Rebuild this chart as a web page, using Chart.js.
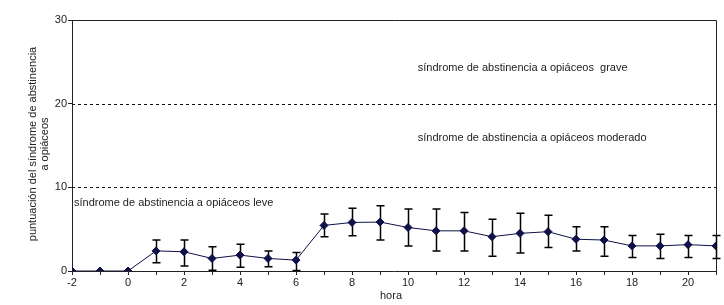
<!DOCTYPE html>
<html>
<head>
<meta charset="utf-8">
<script src="https://cdn.jsdelivr.net/npm/chart.js@4"></script>
<style>
  html, body { margin: 0; padding: 0; background: #fff; }
  #wrap { width: 724px; height: 305px; }
</style>
</head>
<body>
<div id="wrap"><canvas id="chart"></canvas></div>
<script>
// data
const hours = [-2, -1, 0, 1, 2, 3, 4, 5, 6, 7, 8, 9, 10, 11, 12, 13, 14, 15, 16, 17, 18, 19, 20, 21];
const scores = [0, 0, 0, 2.4, 2.3, 1.5, 1.9, 1.5, 1.3, 5.45, 5.8, 5.85, 5.2, 4.8, 4.8, 4.1, 4.5, 4.7, 3.8, 3.7, 3.0, 3.0, 3.15, 3.0];
const errTop = [null, null, null, 3.7, 3.7, 2.9, 3.2, 2.4, 2.2, 6.8, 7.5, 7.8, 7.4, 7.4, 7.0, 6.2, 6.9, 6.65, 5.3, 5.3, 4.25, 4.4, 4.25, 4.25];
const errBottom = [null, null, null, 1.0, 0.6, 0.1, 0.45, 0.5, 0.05, 4.1, 4.2, 3.7, 3.0, 2.4, 2.4, 1.75, 2.15, 2.8, 2.4, 1.75, 1.6, 1.5, 1.6, 1.5];
const yTicks = [0, 10, 20, 30];
const thresholds = [10, 20];
const zoneLabels = [
  { text: 'síndrome de abstinencia a opiáceos  grave', x: 10.35, y: 24.3 },
  { text: 'síndrome de abstinencia a opiáceos moderado', x: 10.35, y: 15.9 },
  { text: 'síndrome de abstinencia a opiáceos leve', x: -1.93, y: 8.1 }
];
const yTitle = ['puntuación del síndrome de abstinencia', 'a opiáceos'];
const xTitle = 'hora';

const FONT = '11px "Liberation Sans", Arial, sans-serif';
const INK = '#222';

const extras = {
  id: 'extras',
  beforeDatasetsDraw(chart) {
    const { ctx, chartArea: a, scales: { x, y } } = chart;
    ctx.save();
    // dashed threshold lines
    ctx.strokeStyle = '#111';
    ctx.lineWidth = 1;
    ctx.setLineDash([3, 3]);
    thresholds.forEach(t => {
      const py = Math.round(y.getPixelForValue(t)) + 0.5;
      ctx.beginPath();
      ctx.moveTo(a.left, py);
      ctx.lineTo(a.right, py);
      ctx.stroke();
    });
    ctx.setLineDash([]);
    // frame top + right
    ctx.strokeStyle = '#222';
    ctx.beginPath();
    ctx.moveTo(a.left, a.top + 0.5);
    ctx.lineTo(a.right + 0.5, a.top + 0.5);
    ctx.lineTo(a.right + 0.5, a.bottom);
    ctx.stroke();
    // error bars
    ctx.strokeStyle = '#000';
    ctx.lineWidth = 1.5;
    hours.forEach((h, i) => {
      if (errTop[i] == null) return;
      const px = Math.round(x.getPixelForValue(h)) + 0.5;
      const t = y.getPixelForValue(errTop[i]);
      const b = y.getPixelForValue(errBottom[i]);
      ctx.beginPath();
      ctx.moveTo(px, t); ctx.lineTo(px, b);
      ctx.moveTo(px - 4, t); ctx.lineTo(px + 4, t);
      ctx.moveTo(px - 4, b); ctx.lineTo(px + 4, b);
      ctx.stroke();
    });
    // zone labels
    ctx.fillStyle = INK;
    ctx.font = FONT;
    ctx.textBaseline = 'middle';
    ctx.textAlign = 'left';
    zoneLabels.forEach(z => {
      ctx.fillText(z.text, x.getPixelForValue(z.x), y.getPixelForValue(z.y));
    });
    // axis titles
    ctx.textAlign = 'center';
    ctx.fillText(xTitle, 391, 296);
    ctx.translate(33, 144);
    ctx.rotate(-Math.PI / 2);
    yTitle.forEach((line, i) => ctx.fillText(line, 0, i * 12));
    ctx.restore();
  }
};

new Chart(document.getElementById('chart'), {
  type: 'line',
  data: {
    datasets: [{
      data: hours.map((h, i) => ({ x: h, y: scores[i] })),
      borderColor: '#10104a',
      backgroundColor: '#10104a',
      borderWidth: 1,
      pointStyle: 'rectRot',
      pointRadius: 4,
      pointHoverRadius: 4,
      tension: 0
    }]
  },
  options: {
    responsive: true,
    maintainAspectRatio: false,
    animation: false,
    layout: { padding: { left: 0, right: 8, top: 20, bottom: 0 } },
    plugins: { legend: { display: false }, tooltip: { enabled: false } },
    scales: {
      x: {
        type: 'linear',
        min: -2,
        max: 21,
        afterFit(s) { s.height = 34; },
        border: { color: '#222', width: 1 },
        grid: { drawOnChartArea: false, tickLength: 4, color: '#222' },
        ticks: {
          stepSize: 1,
          autoSkip: false,
          maxRotation: 0,
          padding: 1,
          color: INK,
          font: { family: '"Liberation Sans", Arial, sans-serif', size: 11 },
          callback: v => (v % 2 === 0 && v <= 20) ? String(v) : ''
        }
      },
      y: {
        min: 0,
        max: 30,
        afterFit(s) { s.width = 72; },
        afterBuildTicks(s) { s.ticks = yTicks.map(v => ({ value: v })); },
        border: { color: '#222', width: 1 },
        grid: { drawOnChartArea: false, tickLength: 4, color: '#222' },
        ticks: {
          padding: 1,
          color: INK,
          font: { family: '"Liberation Sans", Arial, sans-serif', size: 11 }
        }
      }
    }
  },
  plugins: [extras]
});
</script>
</body>
</html>
